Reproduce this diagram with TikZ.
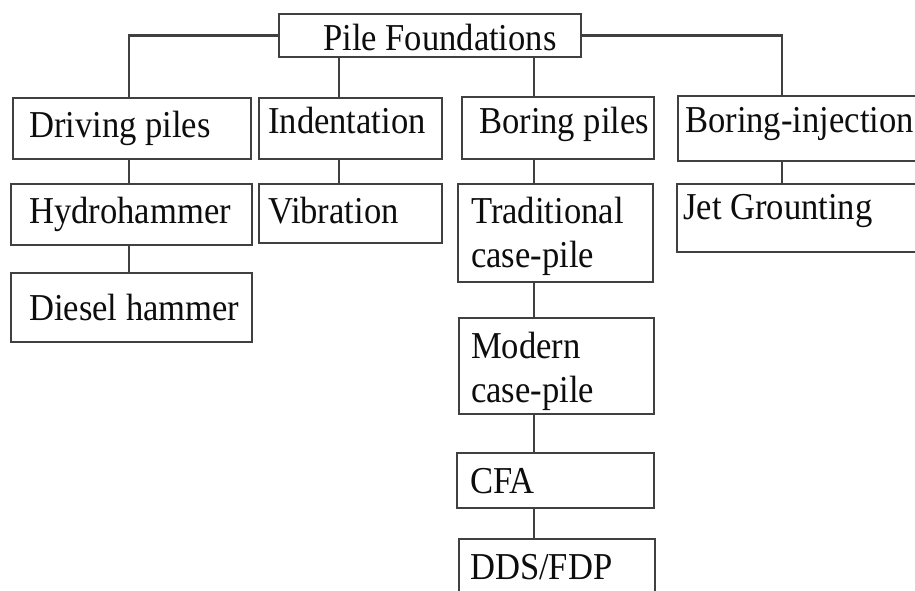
\documentclass[tikz,border=0pt]{standalone}
\usepackage{fontspec}
\setmainfont{Liberation Serif}[FakeStretch=0.91]

\tikzset{
  pbox/.style={draw=black!75, line width=2.2pt, anchor=north west, inner sep=0pt, outer sep=0pt},
  ptext/.style={anchor=north west, inner sep=0pt, align=left, text=black!95, font=\fontsize{38}{43.5}\selectfont},
  link/.style={draw=black!75, line width=2.2pt}
}

\begin{document}
\begin{tikzpicture}[x=1pt, y=-1pt]
  \useasboundingbox (0,0) rectangle (915,591);
  \clip (0,0) rectangle (915,591);

  % root
  \node[pbox, minimum width=302, minimum height=43] (pf) at (279,14) {};
  \node[ptext] (pf-t) at ([xshift=44, yshift=-10]pf.north west) {Pile Foundations};

  % first level
  \node[pbox, minimum width=238, minimum height=61] (dp) at (13,98) {};
  \node[ptext] (dp-t) at ([xshift=16, yshift=-13]dp.north west) {Driving piles};
  \node[pbox, minimum width=183, minimum height=61] (ind) at (259,98) {};
  \node[ptext] (ind-t) at ([xshift=9, yshift=-9]ind.north west) {Indentation};
  \node[pbox, minimum width=192, minimum height=62] (bp) at (462,97) {};
  \node[ptext] (bp-t) at ([xshift=17, yshift=-10]bp.north west) {Boring piles};
  \node[pbox, minimum width=260, minimum height=65] (bi) at (678,96) {};
  \node[ptext] (bi-t) at ([xshift=7, yshift=-11]bi.north west) {Boring-injection};

  % second level and below
  \node[pbox, minimum width=241, minimum height=61] (hh) at (11,184) {};
  \node[ptext] (hh-t) at ([xshift=18, yshift=-13]hh.north west) {Hydrohammer};
  \node[pbox, minimum width=241, minimum height=69] (dh) at (11,273) {};
  \node[ptext] (dh-t) at ([xshift=18, yshift=-21]dh.north west) {Diesel hammer};
  \node[pbox, minimum width=183, minimum height=59] (vib) at (259,184) {};
  \node[ptext] (vib-t) at ([xshift=9, yshift=-13]vib.north west) {Vibration};
  \node[pbox, minimum width=195, minimum height=98] (tc) at (458,184) {};
  \node[ptext] (tc-t) at ([xshift=13, yshift=-13]tc.north west) {Traditional\\case-pile};
  \node[pbox, minimum width=195, minimum height=96] (mc) at (459,318) {};
  \node[ptext] (mc-t) at ([xshift=12, yshift=-14]mc.north west) {Modern\\case-pile};
  \node[pbox, minimum width=197, minimum height=55] (cfa) at (457,453) {};
  \node[ptext] (cfa-t) at ([xshift=13, yshift=-15]cfa.north west) {CFA};
  \node[pbox, minimum width=196, minimum height=80] (dds) at (459,539) {};
  \node[ptext] (dds-t) at ([xshift=11, yshift=-15]dds.north west) {DDS/FDP};
  \node[pbox, minimum width=260, minimum height=68] (jg) at (677,184) {};
  \node[ptext] (jg-t) at ([xshift=6, yshift=-10]jg.north west) {Jet Grounting};

  % columns of the connectors
  \coordinate (c1) at (129,0);
  \coordinate (c2) at (339,0);
  \coordinate (c3) at (534,0);
  \coordinate (c4) at (782,0);

  \draw[link] (pf.west) -| (dp.north -| c1);
  \draw[link] (pf.east) -| (bi.north -| c4);
  \draw[link] (pf.south -| c2) -- (ind.north -| c2);
  \draw[link] (pf.south -| c3) -- (bp.north -| c3);

  \draw[link] (dp.south -| c1) -- (hh.north -| c1);
  \draw[link] (hh.south -| c1) -- (dh.north -| c1);
  \draw[link] (ind.south -| c2) -- (vib.north -| c2);
  \draw[link] (bp.south -| c3) -- (tc.north -| c3);
  \draw[link] (tc.south -| c3) -- (mc.north -| c3);
  \draw[link] (mc.south -| c3) -- (cfa.north -| c3);
  \draw[link] (cfa.south -| c3) -- (dds.north -| c3);
  \draw[link] (bi.south -| c4) -- (jg.north -| c4);
\end{tikzpicture}
\end{document}
